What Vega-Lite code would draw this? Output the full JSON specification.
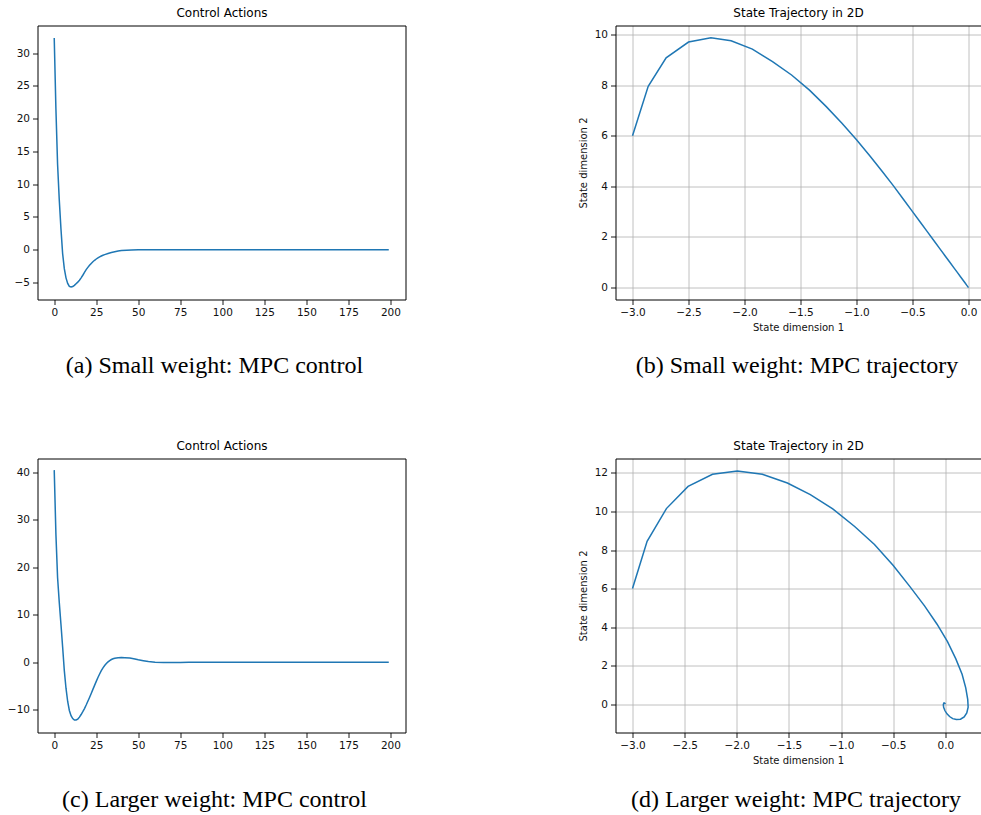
{
  "$schema": "https://vega.github.io/schema/vega-lite/v6.json",
  "padding": {"left": 6.5, "top": 5.5, "right": 0, "bottom": 0},
  "background": "white",
  "config": {
    "font": "DejaVu Sans",
    "view": {"stroke": "#000", "strokeWidth": 1},
    "axis": {"domain": false, "grid": false, "tickColor": "#000", "tickSize": 5, "tickWidth": 0.9, "labelColor": "#111", "labelFontSize": 10.5, "labelFont": "DejaVu Sans", "titleFont": "DejaVu Sans", "titleFontSize": 10, "titleFontWeight": "normal", "titleColor": "#111", "labelPadding": 3, "domainColor": "#000", "domainWidth": 1, "gridColor": "#b0b0b0", "gridWidth": 0.8},
    "title": {"font": "Liberation Serif", "fontSize": 24, "fontWeight": "normal", "color": "#000", "orient": "bottom", "anchor": "middle"},
    "line": {"color": "#1f77b4", "strokeWidth": 1.5}
  },
  "datasets": {
    "ctrlA": [
      {"t": 0, "u": 32.3}, {"t": 1, "u": 21.5}, {"t": 2, "u": 13.0}, {"t": 3, "u": 7.6}, {"t": 4, "u": 3.2},
      {"t": 5, "u": -0.6}, {"t": 6, "u": -2.9}, {"t": 7, "u": -4.3}, {"t": 8, "u": -5.15}, {"t": 9, "u": -5.6},
      {"t": 10, "u": -5.7}, {"t": 11, "u": -5.62}, {"t": 12, "u": -5.45}, {"t": 13, "u": -5.2}, {"t": 14, "u": -4.95},
      {"t": 15, "u": -4.65}, {"t": 16, "u": -4.3}, {"t": 17, "u": -3.9}, {"t": 18, "u": -3.45}, {"t": 19, "u": -3.05},
      {"t": 20, "u": -2.7}, {"t": 21, "u": -2.38}, {"t": 22, "u": -2.1}, {"t": 23, "u": -1.85}, {"t": 24, "u": -1.62},
      {"t": 25, "u": -1.42}, {"t": 26, "u": -1.25}, {"t": 27, "u": -1.1}, {"t": 28, "u": -0.97}, {"t": 29, "u": -0.85},
      {"t": 30, "u": -0.75}, {"t": 32, "u": -0.58}, {"t": 34, "u": -0.43}, {"t": 36, "u": -0.3}, {"t": 38, "u": -0.2},
      {"t": 40, "u": -0.13}, {"t": 43, "u": -0.07}, {"t": 46, "u": -0.03}, {"t": 50, "u": -0.01}, {"t": 55, "u": 0},
      {"t": 60, "u": 0}, {"t": 80, "u": 0}, {"t": 100, "u": 0}, {"t": 120, "u": 0}, {"t": 140, "u": 0},
      {"t": 160, "u": 0}, {"t": 180, "u": 0}, {"t": 199, "u": 0}
    ],
    "ctrlC": [
      {"t": 0, "u": 40.5}, {"t": 1, "u": 27.0}, {"t": 2, "u": 17.8}, {"t": 3, "u": 12.6}, {"t": 4, "u": 8.0},
      {"t": 5, "u": 3.2}, {"t": 6, "u": -1.8}, {"t": 7, "u": -5.5}, {"t": 8, "u": -8.3}, {"t": 9, "u": -10.2},
      {"t": 10, "u": -11.3}, {"t": 11, "u": -11.9}, {"t": 12, "u": -12.2}, {"t": 13, "u": -12.2}, {"t": 14, "u": -12.0},
      {"t": 15, "u": -11.6}, {"t": 16, "u": -11.05}, {"t": 17, "u": -10.45}, {"t": 18, "u": -9.8}, {"t": 19, "u": -9.05},
      {"t": 20, "u": -8.25}, {"t": 21, "u": -7.45}, {"t": 22, "u": -6.6}, {"t": 23, "u": -5.75}, {"t": 24, "u": -4.9},
      {"t": 25, "u": -4.05}, {"t": 26, "u": -3.25}, {"t": 27, "u": -2.5}, {"t": 28, "u": -1.8}, {"t": 29, "u": -1.2},
      {"t": 30, "u": -0.7}, {"t": 31, "u": -0.28}, {"t": 32, "u": 0.05}, {"t": 33, "u": 0.33}, {"t": 34, "u": 0.55},
      {"t": 35, "u": 0.72}, {"t": 36, "u": 0.83}, {"t": 38, "u": 0.93}, {"t": 40, "u": 0.97}, {"t": 42, "u": 0.95},
      {"t": 45, "u": 0.85}, {"t": 48, "u": 0.65}, {"t": 50, "u": 0.5}, {"t": 53, "u": 0.3}, {"t": 56, "u": 0.12},
      {"t": 60, "u": -0.02}, {"t": 65, "u": -0.1}, {"t": 70, "u": -0.1}, {"t": 75, "u": -0.07}, {"t": 80, "u": -0.04},
      {"t": 90, "u": -0.01}, {"t": 100, "u": 0}, {"t": 120, "u": 0}, {"t": 140, "u": 0}, {"t": 160, "u": 0},
      {"t": 180, "u": 0}, {"t": 199, "u": 0}
    ],
    "trajB": [
      {"k": 0, "s1": -3.0, "s2": 6.0}, {"k": 1, "s1": -2.86, "s2": 7.95}, {"k": 2, "s1": -2.7, "s2": 9.08},
      {"k": 3, "s1": -2.5, "s2": 9.7}, {"k": 4, "s1": -2.3, "s2": 9.87}, {"k": 5, "s1": -2.12, "s2": 9.75},
      {"k": 6, "s1": -1.93, "s2": 9.42}, {"k": 7, "s1": -1.75, "s2": 8.93}, {"k": 8, "s1": -1.58, "s2": 8.4},
      {"k": 9, "s1": -1.42, "s2": 7.8}, {"k": 10, "s1": -1.27, "s2": 7.15}, {"k": 11, "s1": -1.13, "s2": 6.49},
      {"k": 12, "s1": -1.0, "s2": 5.84}, {"k": 13, "s1": -0.88, "s2": 5.2}, {"k": 14, "s1": -0.77, "s2": 4.59},
      {"k": 15, "s1": -0.67, "s2": 4.02}, {"k": 16, "s1": -0.58, "s2": 3.48}, {"k": 17, "s1": -0.5, "s2": 3.0},
      {"k": 18, "s1": -0.43, "s2": 2.58}, {"k": 19, "s1": -0.37, "s2": 2.22}, {"k": 20, "s1": -0.31, "s2": 1.86},
      {"k": 21, "s1": -0.26, "s2": 1.56}, {"k": 22, "s1": -0.21, "s2": 1.26}, {"k": 23, "s1": -0.17, "s2": 1.02},
      {"k": 24, "s1": -0.13, "s2": 0.78}, {"k": 25, "s1": -0.1, "s2": 0.6}, {"k": 26, "s1": -0.07, "s2": 0.42},
      {"k": 27, "s1": -0.05, "s2": 0.3}, {"k": 28, "s1": -0.03, "s2": 0.18}, {"k": 29, "s1": -0.015, "s2": 0.09},
      {"k": 30, "s1": -0.005, "s2": 0.03}, {"k": 31, "s1": 0.0, "s2": 0.0}
    ],
    "trajD": [
      {"k": 0, "s1": -3.0, "s2": 6.0}, {"k": 1, "s1": -2.86, "s2": 8.45}, {"k": 2, "s1": -2.675, "s2": 10.15},
      {"k": 3, "s1": -2.467, "s2": 11.3}, {"k": 4, "s1": -2.233, "s2": 11.93}, {"k": 5, "s1": -1.995, "s2": 12.1},
      {"k": 6, "s1": -1.755, "s2": 11.93}, {"k": 7, "s1": -1.515, "s2": 11.48}, {"k": 8, "s1": -1.295, "s2": 10.88},
      {"k": 9, "s1": -1.08, "s2": 10.13}, {"k": 10, "s1": -0.87, "s2": 9.22}, {"k": 11, "s1": -0.68, "s2": 8.29},
      {"k": 12, "s1": -0.5, "s2": 7.2}, {"k": 13, "s1": -0.34, "s2": 6.1}, {"k": 14, "s1": -0.2, "s2": 5.1},
      {"k": 15, "s1": -0.08, "s2": 4.15}, {"k": 16, "s1": 0.02, "s2": 3.25}, {"k": 17, "s1": 0.1, "s2": 2.35},
      {"k": 18, "s1": 0.16, "s2": 1.55}, {"k": 19, "s1": 0.195, "s2": 0.85}, {"k": 20, "s1": 0.214, "s2": 0.25},
      {"k": 21, "s1": 0.218, "s2": -0.15}, {"k": 22, "s1": 0.205, "s2": -0.45}, {"k": 23, "s1": 0.18, "s2": -0.66},
      {"k": 24, "s1": 0.145, "s2": -0.78}, {"k": 25, "s1": 0.105, "s2": -0.8}, {"k": 26, "s1": 0.07, "s2": -0.75},
      {"k": 27, "s1": 0.04, "s2": -0.64}, {"k": 28, "s1": 0.015, "s2": -0.5}, {"k": 29, "s1": -0.005, "s2": -0.33},
      {"k": 30, "s1": -0.017, "s2": -0.16}, {"k": 31, "s1": -0.02, "s2": -0.02}, {"k": 32, "s1": -0.015, "s2": 0.06},
      {"k": 33, "s1": -0.008, "s2": 0.06}, {"k": 34, "s1": -0.003, "s2": 0.03}, {"k": 35, "s1": 0.0, "s2": 0.0}
    ]
  },
  "columns": 2,
  "spacing": {"row": 60, "column": 171},
  "concat": [
    {
      "width": 368, "height": 274,
      "title": {"text": "(a) Small weight: MPC control", "dx": -7, "offset": 36},
      "data": {"name": "ctrlA"},
      "layer": [
        {"mark": "line", "encoding": {
          "x": {"field": "t", "type": "quantitative", "scale": {"domain": [-9.95, 208.95], "nice": false, "zero": false}, "axis": {"values": [0, 25, 50, 75, 100, 125, 150, 175, 200], "title": null}},
          "y": {"field": "u", "type": "quantitative", "scale": {"domain": [-7.6, 34.2], "nice": false, "zero": false}, "axis": {"values": [-5, 0, 5, 10, 15, 20, 25, 30], "title": null}},
          "order": {"field": "t", "type": "quantitative"}
        }},
        {"mark": {"type": "line", "opacity": 0}, "encoding": {
          "x": {"field": "t", "type": "quantitative", "scale": {"domain": [-9.95, 208.95], "nice": false, "zero": false}, "axis": {"orient": "top", "labels": false, "ticks": false, "domain": false, "title": "Control Actions", "titleFontSize": 12, "titleColor": "#000", "titlePadding": 6}},
          "y": {"field": "u", "type": "quantitative", "scale": {"domain": [-7.6, 34.2], "nice": false, "zero": false}, "axis": {"values": [-5, 0, 5, 10, 15, 20, 25, 30], "title": null}}
        }}
      ],
      "resolve": {"axis": {"x": "independent"}}
    },
    {
      "width": 365, "height": 274,
      "view": {"stroke": null},
      "title": {"text": "(b) Small weight: MPC trajectory", "dx": -1, "offset": 22},
      "data": {"name": "trajB"},
      "layer": [
        {"mark": "line", "encoding": {
          "x": {"field": "s1", "type": "quantitative", "scale": {"domain": [-3.152, 0.107], "nice": false, "zero": false}, "axis": {"values": [-3, -2.5, -2, -1.5, -1, -0.5, 0], "format": ".1f", "title": "State dimension 1", "grid": true, "domain": true, "titlePadding": 4}},
          "y": {"field": "s2", "type": "quantitative", "scale": {"domain": [-0.47, 10.355], "nice": false, "zero": false}, "axis": {"values": [0, 2, 4, 6, 8, 10], "title": "State dimension 2", "grid": true, "domain": true, "titlePadding": 6}},
          "order": {"field": "k", "type": "quantitative"}
        }},
        {"mark": {"type": "line", "opacity": 0}, "encoding": {
          "x": {"field": "s1", "type": "quantitative", "scale": {"domain": [-3.152, 0.107], "nice": false, "zero": false}, "axis": {"orient": "top", "labels": false, "ticks": false, "domain": true, "grid": false, "title": "State Trajectory in 2D", "titleFontSize": 12, "titleColor": "#000", "titlePadding": 6}},
          "y": {"field": "s2", "type": "quantitative", "scale": {"domain": [-0.47, 10.355], "nice": false, "zero": false}, "axis": {"values": [0, 2, 4, 6, 8, 10], "title": "State dimension 2", "grid": true, "domain": true, "titlePadding": 6}},
          "order": {"field": "k", "type": "quantitative"}
        }}
      ],
      "resolve": {"axis": {"x": "independent"}}
    },
    {
      "width": 368, "height": 274,
      "title": {"text": "(c) Larger weight: MPC control", "dx": -7, "offset": 37},
      "data": {"name": "ctrlC"},
      "layer": [
        {"mark": "line", "encoding": {
          "x": {"field": "t", "type": "quantitative", "scale": {"domain": [-9.95, 208.95], "nice": false, "zero": false}, "axis": {"values": [0, 25, 50, 75, 100, 125, 150, 175, 200], "title": null}},
          "y": {"field": "u", "type": "quantitative", "scale": {"domain": [-14.84, 42.95], "nice": false, "zero": false}, "axis": {"values": [-10, 0, 10, 20, 30, 40], "title": null}},
          "order": {"field": "t", "type": "quantitative"}
        }},
        {"mark": {"type": "line", "opacity": 0}, "encoding": {
          "x": {"field": "t", "type": "quantitative", "scale": {"domain": [-9.95, 208.95], "nice": false, "zero": false}, "axis": {"orient": "top", "labels": false, "ticks": false, "domain": false, "title": "Control Actions", "titleFontSize": 12, "titleColor": "#000", "titlePadding": 6}},
          "y": {"field": "u", "type": "quantitative", "scale": {"domain": [-14.84, 42.95], "nice": false, "zero": false}, "axis": {"values": [-10, 0, 10, 20, 30, 40], "title": null}}
        }}
      ],
      "resolve": {"axis": {"x": "independent"}}
    },
    {
      "width": 365, "height": 274,
      "view": {"stroke": null},
      "title": {"text": "(d) Larger weight: MPC trajectory", "dx": -2, "offset": 23},
      "data": {"name": "trajD"},
      "layer": [
        {"mark": "line", "encoding": {
          "x": {"field": "s1", "type": "quantitative", "scale": {"domain": [-3.163, 0.3365], "nice": false, "zero": false}, "axis": {"values": [-3, -2.5, -2, -1.5, -1, -0.5, 0], "format": ".1f", "title": "State dimension 1", "grid": true, "domain": true, "titlePadding": 4}},
          "y": {"field": "s2", "type": "quantitative", "scale": {"domain": [-1.47, 12.75], "nice": false, "zero": false}, "axis": {"values": [0, 2, 4, 6, 8, 10, 12], "title": "State dimension 2", "grid": true, "domain": true, "titlePadding": 6}},
          "order": {"field": "k", "type": "quantitative"}
        }},
        {"mark": {"type": "line", "opacity": 0}, "encoding": {
          "x": {"field": "s1", "type": "quantitative", "scale": {"domain": [-3.163, 0.3365], "nice": false, "zero": false}, "axis": {"orient": "top", "labels": false, "ticks": false, "domain": true, "grid": false, "title": "State Trajectory in 2D", "titleFontSize": 12, "titleColor": "#000", "titlePadding": 6}},
          "y": {"field": "s2", "type": "quantitative", "scale": {"domain": [-1.47, 12.75], "nice": false, "zero": false}, "axis": {"values": [0, 2, 4, 6, 8, 10, 12], "title": "State dimension 2", "grid": true, "domain": true, "titlePadding": 6}},
          "order": {"field": "k", "type": "quantitative"}
        }}
      ],
      "resolve": {"axis": {"x": "independent"}}
    }
  ]
}
